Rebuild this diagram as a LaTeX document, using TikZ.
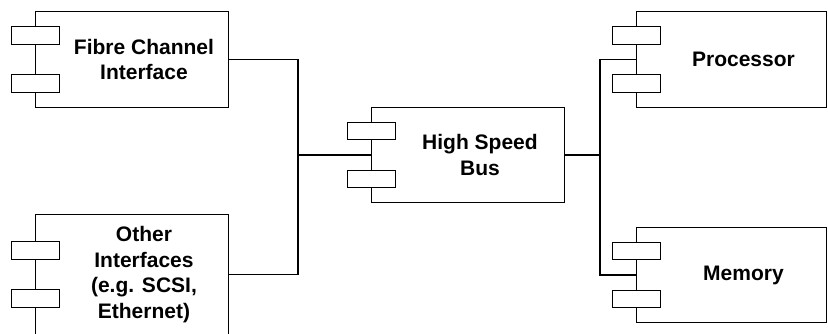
\documentclass[tikz,border=0pt]{standalone}
\usepackage{fontspec}
\setmainfont{Liberation Sans}
\usetikzlibrary{positioning}
\tikzset{
  compbox/.style={draw,line width=0.9pt,fill=white,inner sep=0pt},
  portbox/.style={draw,line width=0.9pt,fill=white,minimum width=48pt,minimum height=17.5pt,inner sep=0pt},
  complabel/.style={font=\fontsize{21}{25.5}\selectfont\bfseries,align=center,inner sep=0pt},
  wire/.style={line width=1.6pt}
}
% component box with two ports on its left side
\newcommand{\component}[6]{%
  \node[compbox,minimum width=#4,minimum height=#5,anchor=north west] (#1) at (#2,#3) {};
  \node[portbox] (#1-pa) at ([yshift=24pt]#1.west) {};
  \node[portbox] (#1-pb) at ([yshift=-24pt]#1.west) {};
  \node[complabel] (#1-txt) at ([xshift=12pt]#1.center) {#6};
}

\begin{document}
\begin{tikzpicture}[x=1pt,y=-1pt]

  % Explicit bounding box, same proportions as the original
  \useasboundingbox (0,0) rectangle (828,333);

  % ---------------- Interfaces (left) ----------------
  \component{fci}{35}{11}{193}{96}{Fibre Channel\\Interface}
  \component{oif}{35}{214}{193}{120}{Other\\Interfaces\\(e.g. SCSI,\\Ethernet)}

  % ---------------- Bus (middle) ----------------
  \component{hsb}{371}{107}{193}{95}{High Speed\\Bus}

  % ---------------- Processor and memory (right) ----------------
  \component{cpu}{636}{11}{190}{96}{Processor}
  \component{mem}{636}{227}{190}{95}{Memory}

  % ---------------- Wiring ----------------
  \coordinate (jl) at (298,155);
  \coordinate (jr) at (600,155);
  \draw[wire] (fci.east) -| (jl) |- (oif.east);
  \draw[wire] (jl) -- (hsb.west);
  \draw[wire] (cpu.west) -| (jr) |- (mem.west);
  \draw[wire] (hsb.east) -- (jr);

\end{tikzpicture}
\end{document}
